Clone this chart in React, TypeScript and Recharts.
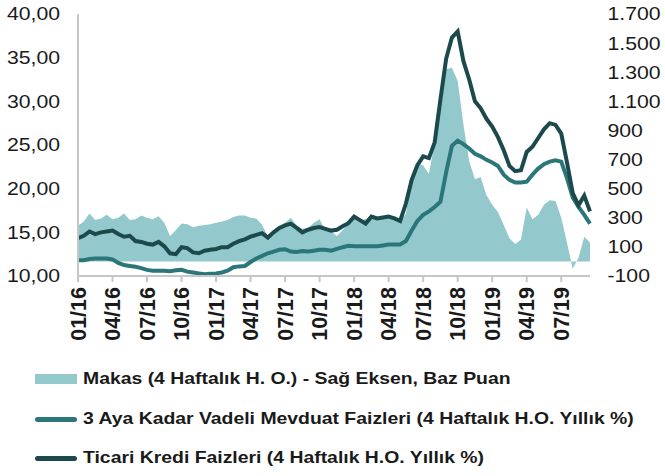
import React from 'react';
import { ComposedChart, Area, Line, XAxis, YAxis } from 'recharts';

// Half-monthly observations, Jan 2016 .. Sep 2019
const quarterLabels = ['01/16', '04/16', '07/16', '10/16', '01/17', '04/17', '07/17', '10/17', '01/18', '04/18', '07/18', '10/18', '01/19', '04/19', '07/19'];

const makas = [
  245, 275, 330, 285, 295, 320, 290, 300, 330, 285,
  290, 315, 300, 290, 310, 265, 175, 215, 260, 255,
  235, 245, 250, 255, 265, 275, 285, 305, 315, 315,
  300, 295, 250, 175, 215, 240, 265, 300, 245, 225,
  230, 265, 290, 215, 205, 175, 215, 260, 300, 285,
  290, 310, 295, 305, 315, 290, 270, 330, 560, 670,
  660, 600, 820, 1070, 1320, 1330, 1240, 940, 690, 565,
  580, 455, 390, 340, 250, 160, 120, 150, 370, 290,
  320, 390, 420, 415, 300, 130, -50, 25, 170, 130,
];

const mevduat = [
  11.8, 11.8, 11.95, 12.0, 12.0, 12.0, 11.9, 11.5, 11.25, 11.15,
  11.05, 10.9, 10.7, 10.6, 10.6, 10.6, 10.55, 10.65, 10.7, 10.5,
  10.4, 10.3, 10.2, 10.25, 10.3, 10.4, 10.6, 11.0, 11.1, 11.15,
  11.6, 12.0, 12.3, 12.6, 12.8, 13.0, 13.05, 12.8, 12.75, 12.85,
  12.8, 12.9, 13.0, 13.0, 12.9, 13.1, 13.3, 13.45, 13.4, 13.4,
  13.4, 13.4, 13.4, 13.5, 13.6, 13.6, 13.6, 14.0, 15.2, 16.3,
  17.0, 17.4, 17.9, 18.5, 21.9, 24.9, 25.5, 25.1, 24.6, 24.0,
  23.7, 23.3, 23.0, 22.6, 21.6, 21.0, 20.7, 20.7, 20.8, 21.6,
  22.3, 22.8, 23.1, 23.25, 23.1, 21.2, 19.0, 17.9, 17.0, 16.0,
];

const ticari = [
  14.35, 14.6, 15.1, 14.8, 15.0, 15.1, 15.2, 14.8, 14.5, 14.6,
  14.0, 13.9, 13.7, 13.6, 13.9, 13.4, 12.6, 12.5, 13.3, 13.2,
  12.7, 12.6, 12.9, 13.0, 13.1, 13.3, 13.3, 13.7, 14.0, 14.2,
  14.5, 14.7, 14.9, 14.4, 15.0, 15.5, 15.8, 16.0, 15.5, 15.0,
  15.3, 15.5, 15.6, 15.4, 15.2, 15.3, 15.7, 16.05, 16.8, 16.4,
  16.0, 16.8, 16.6, 16.7, 16.8, 16.6, 16.3, 18.3, 21.0, 22.7,
  23.7, 23.5, 25.3, 30.2, 34.9, 37.3, 38.0, 34.6, 32.5, 30.0,
  29.2, 28.0, 27.1, 25.9, 24.4, 22.6, 22.0, 22.1, 24.2, 24.8,
  25.8, 26.8, 27.5, 27.3, 26.3, 23.0, 19.5, 18.1, 19.2, 17.4,
];

const leftTicks = [10, 15, 20, 25, 30, 35, 40];
const rightTicks = [-100, 100, 300, 500, 700, 900, 1100, 1300, 1500, 1700];

const legendLabels = [
  'Makas (4 Haftalık H. O.) - Sağ Eksen, Baz Puan',
  '3 Aya Kadar Vadeli Mevduat Faizleri (4 Haftalık H.O. Yıllık %)',
  'Ticari Kredi Faizleri (4 Haftalık H.O. Yıllık %)',
];

const COLOR_AREA = '#93c9cc';
const COLOR_MEV = '#2b7678';
const COLOR_TIC = '#1c4a4c';
const AXIS_GRAY = '#c6c6c6';
const FONT = '"Liberation Sans", Arial, sans-serif';

const data = makas.map((m, i) => ({ i, makas: m, mevduat: mevduat[i], ticari: ticari[i] }));
const xTicks = quarterLabels.map((_, k) => k * 6);

const fmtLeft = (v: number) => v.toFixed(2).replace('.', ',');
const fmtRight = (v: number) => {
  const s = Math.abs(v).toString();
  const withDots = s.replace(/\B(?=(\d{3})+(?!\d))/g, '.');
  return (v < 0 ? '-' : '') + withDots;
};

const LeftTick = (props: any) => {
  const { x, y, payload } = props;
  return (
    <text x={0} y={0} dy="0.36em" transform={`translate(${x},${y}) scale(1.18,1)`} textAnchor="end" fontSize={18} fontFamily={FONT} fill="#1a1a1a">
      {fmtLeft(payload.value)}
    </text>
  );
};

const RightTick = (props: any) => {
  const { x, y, payload } = props;
  return (
    <text x={0} y={0} dy="0.36em" transform={`translate(${x},${y}) scale(1.18,1)`} textAnchor="start" fontSize={18} fontFamily={FONT} fill="#1a1a1a">
      {fmtRight(payload.value)}
    </text>
  );
};

const BottomTick = (props: any) => {
  const { x, y, payload } = props;
  const label = quarterLabels[Math.round(payload.value / 6)] ?? '';
  return (
    <text x={x} y={y} dy="0.35em" transform={`rotate(-90, ${x}, ${y})`} textAnchor="end" fontSize={21.5} fontWeight="bold" fontFamily={FONT} fill="#1a1a1a">
      {label}
    </text>
  );
};

const Swatch = ({ kind, color }: { kind: 'rect' | 'line'; color: string }) => (
  <div style={{ width: 42, height: 20, display: 'flex', alignItems: 'center', marginRight: 6 }}>
    {kind === 'rect' ? (
      <div style={{ width: 42, height: 10, background: color }} />
    ) : (
      <div style={{ width: 42, height: 5, background: color, borderRadius: 3 }} />
    )}
  </div>
);

export default function App() {
  const rows = [
    { top: 369, kind: 'rect' as const, color: COLOR_AREA, label: legendLabels[0] },
    { top: 409, kind: 'line' as const, color: COLOR_MEV, label: legendLabels[1] },
    { top: 448, kind: 'line' as const, color: COLOR_TIC, label: legendLabels[2] },
  ];
  return (
    <div style={{ position: 'absolute', left: 0, top: 0, width: 665, height: 476, background: '#fff', overflow: 'hidden' }}>
      <ComposedChart width={665} height={350} data={data} margin={{ top: 14, right: 0, bottom: 0, left: 0 }}>
        <XAxis
          dataKey="i"
          type="number"
          domain={[0, 89]}
          ticks={xTicks}
          interval={0}
          height={74}
          tickSize={6}
          tickMargin={5}
          axisLine={{ stroke: AXIS_GRAY, strokeWidth: 2 }}
          tickLine={{ stroke: AXIS_GRAY, strokeWidth: 2 }}
          tick={<BottomTick />}
        />
        <YAxis
          yAxisId="left"
          orientation="left"
          domain={[10, 40]}
          ticks={leftTicks}
          interval={0}
          width={78}
          tickSize={0}
          tickMargin={18}
          axisLine={{ stroke: AXIS_GRAY, strokeWidth: 2 }}
          tickLine={false}
          tick={<LeftTick />}
        />
        <YAxis
          yAxisId="right"
          orientation="right"
          domain={[-100, 1700]}
          ticks={rightTicks}
          interval={0}
          width={75}
          tickSize={0}
          tickMargin={17.5}
          axisLine={false}
          tickLine={false}
          tick={<RightTick />}
        />
        <Area
          yAxisId="right"
          dataKey="makas"
          type="linear"
          baseValue={0}
          fill={COLOR_AREA}
          fillOpacity={1}
          stroke="none"
          isAnimationActive={false}
        />
        <Line yAxisId="left" dataKey="mevduat" type="linear" stroke={COLOR_MEV} strokeWidth={4} dot={false} isAnimationActive={false} />
        <Line yAxisId="left" dataKey="ticari" type="linear" stroke={COLOR_TIC} strokeWidth={4} dot={false} isAnimationActive={false} />
      </ComposedChart>
      {rows.map((r) => (
        <div key={r.label} style={{ position: 'absolute', left: 35, top: r.top, height: 20, display: 'flex', alignItems: 'center', whiteSpace: 'nowrap' }}>
          <Swatch kind={r.kind} color={r.color} />
          <span style={{ display: 'inline-block', fontFamily: FONT, fontSize: 17, fontWeight: 'bold', lineHeight: '20px', color: '#1a1a1a', transform: 'scaleX(1.14)', transformOrigin: 'left center' }}>
            {r.label}
          </span>
        </div>
      ))}
    </div>
  );
}
